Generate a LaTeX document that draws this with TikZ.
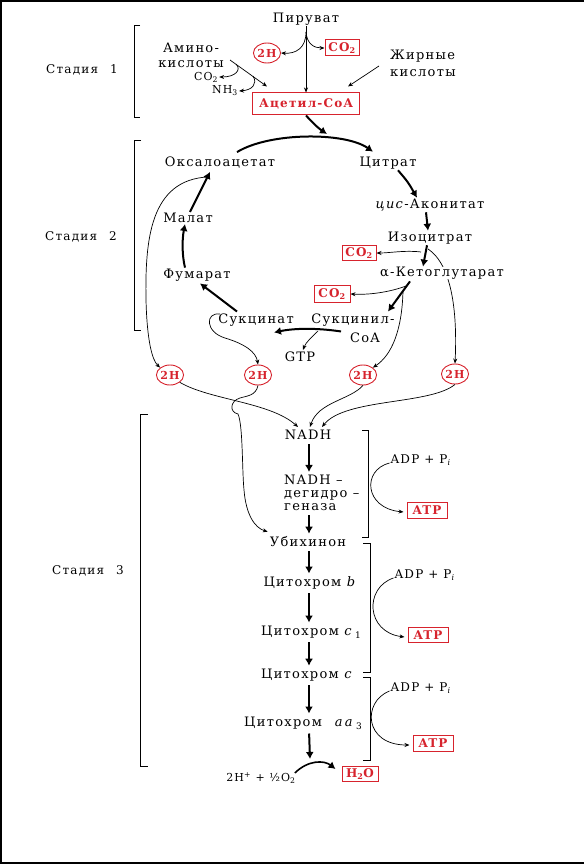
\documentclass[tikz,border=0pt]{standalone}
\usepackage{fontspec}
\setmainfont{DejaVu Serif}[LetterSpace=10]
\usetikzlibrary{arrows.meta,shapes.geometric,calc}
\definecolor{rd}{RGB}{215,35,45}
\tikzset{
 lbl/.style={inner sep=1pt, font=\fontsize{13}{15}\selectfont},
 stg/.style={inner sep=1pt, font=\fontsize{12}{14}\selectfont},
 sml/.style={inner sep=1pt, font=\fontsize{11}{13}\selectfont},
 adp/.style={inner sep=1pt, font=\fontsize{12}{14}\selectfont},
 rbox/.style={draw=rd, text=rd, line width=1pt, inner sep=1.5pt, font=\fontsize{12}{14}\selectfont\bfseries},
 hh/.style={ellipse, draw=rd, text=rd, line width=0.9pt, minimum width=25pt, minimum height=20pt, inner sep=0pt, font=\fontsize{11}{13}\selectfont\bfseries},
 big/.style={line width=2pt, -{Latex[length=7pt,width=8pt]}},
 thn/.style={line width=0.7pt, -{Stealth[length=5pt,width=4pt]}},
 brk/.style={line width=1pt},
}
\begin{document}
\begin{tikzpicture}[x=1pt,y=-1pt]
\useasboundingbox (0,0) rectangle (584,864);
\fill[white] (0,0) rectangle (584,864);
\draw[line width=2pt] (0,1)--(584,1) (1,0)--(1,864) (0,863)--(584,863);

% stage labels and brackets
\node[stg] (s1) at (82,70) {Стадия\hspace{1em}1};
\node[stg] (s2) at (81,237) {Стадия\hspace{1em}2};
\node[stg] (s3) at (88,571) {Стадия\hspace{1em}3};
\draw[brk] (140,26) -- (134,26) -- (134,118) -- (140,118);
\draw[brk] (141,140) -- (134,140) -- (134,330) -- (141,330);
\draw[brk] (148,414) -- (140,414) -- (140,766) -- (148,766);
\draw[brk] (362,430) -- (368,430) -- (368,537) -- (362,537);
\draw[brk] (363,543) -- (370,543) -- (370,672) -- (363,672);
\draw[brk] (363,677) -- (370,677) -- (370,760) -- (363,760);

% stage 1
\node[lbl] (pyr) at (306,19) {Пируват};
\node[hh] (h0) at (267,53) {2H};
\node[rbox, minimum width=34pt, minimum height=16pt] (co2a) at (342,48) {CO\textsubscript{2}};
\node[lbl, align=center, font=\fontsize{13}{15}\selectfont] (amino) at (191,55) {Амино-\\кислоты};
\node[sml] (co2b) at (206,77) {CO\textsubscript{2}};
\node[sml] (nh3) at (225,91) {NH\textsubscript{3}};
\node[lbl, align=left, anchor=west, font=\fontsize{13}{17}\selectfont] (fatty) at (389,63) {Жирные\\кислоты};
\node[rbox, minimum width=107pt, minimum height=22pt] (acoa) at (306,104) {Ацетил-CoA};
\coordinate (pb) at (306,32);
\draw[thn] (pyr.south) -- (acoa.north);
\draw[thn] (pb) .. controls (306,48) and (296,54) .. (h0.east);
\draw[thn] (pb) .. controls (307,44) and (314,48) .. (co2a.west);
\coordinate (aa) at (230,60);
\coordinate (ab) at (236,64);
\coordinate (ac) at (253,76);
\draw[thn] (aa) -- ($(acoa.north west)+(15,-6)$);
\draw[thn] (ab) .. controls (242,70) and (235,77) .. (co2b.east);
\draw[thn] (ac) .. controls (258,84) and (252,90) .. (nh3.east);
\draw[thn] ($(fatty.west)+(-10,3)$) -- ($(acoa.north east)+(-12,-6)$);
\coordinate (cin) at (327,134);
\draw[big] (acoa.south) .. controls (312,122) and (318,128) .. (cin);

% cycle
\node[lbl] (oxa) at (220,163) {Оксалоацетат};
\node[lbl] (cit) at (388,163) {Цитрат};
\node[lbl] (cis) at (430,205) {\textit{цис}-Аконитат};
\node[lbl] (iso) at (430,238) {Изоцитрат};
\node[rbox, minimum width=34pt, minimum height=15pt] (co2c) at (359,253) {CO\textsubscript{2}};
\node[rbox, minimum width=36pt, minimum height=17pt] (co2d) at (332,294) {CO\textsubscript{2}};
\node[lbl] (mal) at (188,218) {Малат};
\node[lbl] (fum) at (197,275) {Фумарат};
\node[lbl] (suc) at (256,320) {Сукцинат};
\node[lbl] (sca) at (353,320) {Сукцинил-};
\node[lbl] (scb) at (365,338) {CoA};
\node[lbl] (gtp) at (300,357) {GTP};
\node[hh] (h1) at (170,375) {2H};
\node[hh] (h2) at (258,375) {2H};
\node[hh] (h3) at (363,375) {2H};
\node[hh] (h4) at (455,374) {2H};
\draw[thn] (428,249) .. controls (448,262) and (458,300) .. (h4.north);
\node[lbl, fill=white, inner sep=0pt] (akg) at (442,273) {α-Кетоглутарат};

\draw[big] ($(oxa.north)+(17,-4)$) .. controls (270,132) and (345,132) .. ($(cit.north)+(-15,-4)$);
\draw[big] ($(cit.south)+(10,0)$) .. controls (408,182) .. ($(cis.north)+(-13,0)$);
\draw[big] ($(cis.south)+(-4,0)$) -- ($(iso.north)+(-2,0)$);
\draw[big] ($(iso.south)+(-3,0)$) -- ($(akg.north)+(-19,0)$);
\coordinate (ib) at (421,252);
\draw[thn] (ib) .. controls (405,250) and (390,253) .. (co2c.east);
\draw[big] ($(akg.south)+(-32,2)$) -- ($(sca.north)+(35,-1)$);
\coordinate (kb) at (406,286);
\draw[thn] (kb) .. controls (390,292) and (370,295) .. (co2d.east);
\coordinate (kc) at (403,291);
\draw[thn] (kc) .. controls (402,330) and (392,355) .. (h3.north east);
\draw[big] ($(sca.south)+(-12,4)$) .. controls (318,328) and (295,328) .. ($(suc.south)+(18,5)$);
\coordinate (sg) at (318,331);
\draw[thn] (sg) .. controls (312,337) and (306,342) .. ($(gtp.north)+(3,-1)$);
\draw[big] ($(suc.north)+(-19,-1)$) -- ($(fum.south)+(3,1)$);
\draw[thn] ($(suc.west)+(3,-6)$) .. controls (205,312) and (205,332) .. (225,338) .. controls (245,344) and (256,352) .. (h2.north);
\draw[big] ($(fum.north)+(-12,0)$) .. controls (182,255) and (182,240) .. ($(mal.south)+(-3,0)$);
\draw[big] ($(mal.north)+(2,0)$) -- ($(oxa.south)+(-10,2)$);
\draw[thn] ($(oxa.south)+(-12,7)$) .. controls (150,180) and (145,240) .. (146,300) .. controls (147,340) and (152,360) .. (h1.north west);

% chain
\node[lbl] (nadh) at (308,435) {NADH};
\node[lbl, align=left, anchor=west, font=\fontsize{13}{13}\selectfont] (ndh) at (283,493) {NADH –\\дегидро –\\геназа};
\node[lbl] (ubi) at (308,542) {Убихинон};
\node[lbl] (cb) at (310,583) {Цитохром \textit{b}};
\node[lbl] (cc1) at (311,632) {Цитохром \textit{c}\,\raisebox{-3pt}{\small 1}};
\node[lbl] (cc) at (307,675) {Цитохром \textit{c}};
\node[lbl] (caa) at (303,723) {Цитохром\hspace{1em}\textit{a\,a}\,\raisebox{-3pt}{\small 3}};
\node[sml] (wat) at (261,778) {2H\textsuperscript{+} + ½O\textsubscript{2}};
\node[rbox, minimum width=36pt, minimum height=15pt] (h2o) at (360,774) {H\textsubscript{2}O};

\draw[thn] (h1.south east) .. controls (210,400) and (270,402) .. ($(nadh.north)+(-10,-2)$);
\draw[thn] (h3.south) .. controls (350,400) and (318,402) .. ($(nadh.north)+(2,-2)$);
\draw[thn] (h4.south) .. controls (430,405) and (345,398) .. ($(nadh.north)+(14,-2)$);
\draw[thn] (h2.south) .. controls (256,396) and (246,396) .. (240,398) .. controls (230,401) and (229,412) .. (238,414) .. controls (243,425) and (242,470) .. (244,490) .. controls (246,515) and (255,528) .. ($(ubi.north west)+(-1,-4)$);

\coordinate (ax) at (309,0);
\begin{scope}[shorten <=3pt, shorten >=2pt]
\draw[big] (nadh.south -| ax) -- (ndh.north -| ax);
\draw[big] (ndh.south -| ax) -- (ubi.north -| ax);
\draw[big] (ubi.south -| ax) -- (cb.north -| ax);
\draw[big] (cb.south -| ax) -- (cc1.north -| ax);
\draw[big] (cc1.south -| ax) -- (cc.north -| ax);
\draw[big] (cc.south -| ax) -- (caa.north -| ax);
\end{scope}
\coordinate (wtop) at (310,759);
\draw[big, shorten <=3pt] (caa.south -| ax) -- (wtop);
\draw[big, line width=1.6pt] ($(wat.east)+(-2,-5)$) .. controls (308,760) and (324,760) .. ($(h2o.west)+(-6,-5)$);

% ATP
\node[adp] (adp1) at (421,460) {ADP + P\textsubscript{\textit{i}}};
\node[rbox, minimum width=40pt, minimum height=16pt] (atp1) at (427,510) {ATP};
\node[adp] (adp2) at (425,575) {ADP + P\textsubscript{\textit{i}}};
\node[rbox, minimum width=40pt, minimum height=15pt] (atp2) at (428,635) {ATP};
\node[adp] (adp3) at (421,688) {ADP + P\textsubscript{\textit{i}}};
\node[rbox, minimum width=40pt, minimum height=16pt] (atp3) at (433,743) {ATP};
\draw[thn] ($(adp1.west)+(0,3)$) .. controls (362,470) and (364,508) .. ($(atp1.west)+(-3,2)$);
\draw[thn] ($(adp2.west)+(0,3)$) .. controls (364,588) and (366,632) .. ($(atp2.west)+(-3,2)$);
\draw[thn] ($(adp3.west)+(0,3)$) .. controls (362,702) and (364,745) .. ($(atp3.west)+(-3,2)$);
\end{tikzpicture}
\end{document}
